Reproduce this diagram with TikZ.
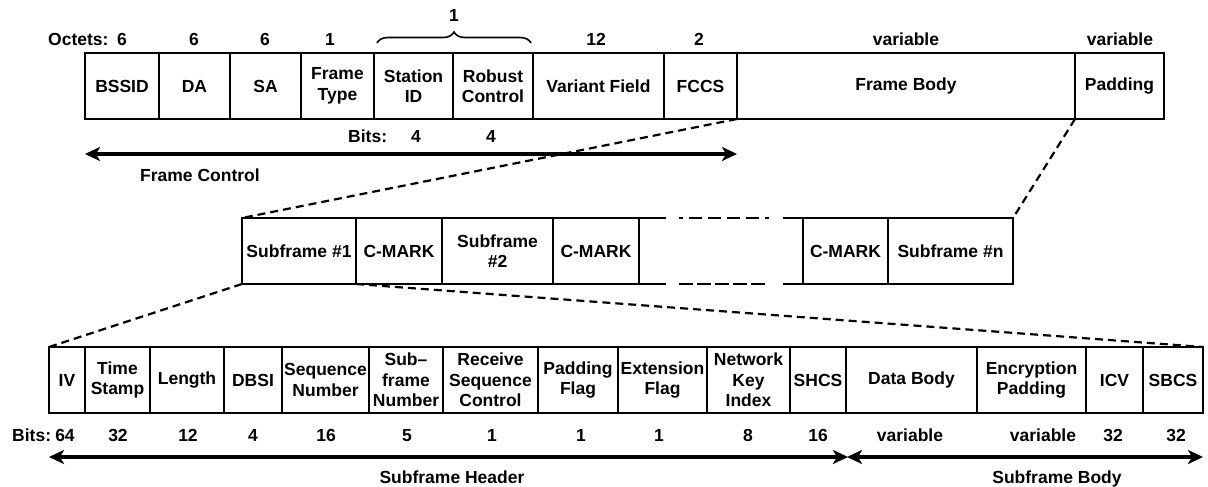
\documentclass[tikz,border=0pt]{standalone}
\usepackage{fontspec}
\setmainfont{Liberation Sans}
\usetikzlibrary{arrows.meta,decorations.pathreplacing}
\newcommand\ff{\fontsize{17.5}{20.5}\selectfont\bfseries}
\newcommand\fld[6]{\node[field,minimum width={#3-#2},minimum height={#5-#4}] (#1) at ({(#2+#3)/2},{(#4+#5)/2}) {#6};}
\tikzset{
  field/.style={draw,line width=2pt,inner sep=0pt,outer sep=0pt,align=center,font=\ff},
  lbl/.style={inner sep=0pt,anchor=base,font=\ff},
  lblw/.style={inner sep=0pt,anchor=base west,font=\ff},
  zoomline/.style={line width=2.2pt,dash pattern=on 8pt off 5pt},
  span/.style={line width=3.2pt,{Stealth[length=15pt,width=14pt,inset=4pt]}-{Stealth[length=15pt,width=14pt,inset=4pt]}}
}
\begin{document}
\begin{tikzpicture}[x=1pt,y=-1pt]
\useasboundingbox (0,0) rectangle (1208,487);
% ---- top row
\fld{bssid}{85}{159}{53}{119}{BSSID}
\fld{da}{159}{230}{53}{119}{DA}
\fld{sa}{230}{301}{53}{119}{SA}
\fld{ftype}{301}{374}{53}{119}{Frame\\Type}
\fld{stid}{374}{453}{53}{119}{Station\\ID}
\fld{robust}{453}{533}{53}{119}{Robust\\Control}
\fld{variant}{533}{664}{53}{119}{Variant Field}
\fld{fccs}{664}{737}{53}{119}{FCCS}
\fld{fbody}{737}{1075}{53}{119}{Frame Body}
\fld{padding}{1075}{1164}{53}{119}{Padding}
\node[lblw] (octets) at (48,46) {Octets:};
\node[lbl] (o1) at (122,46) {6};
\node[lbl] (o2) at (194,46) {6};
\node[lbl] (o3) at (265,46) {6};
\node[lbl] (o4) at (330,46) {1};
\node[lbl] (o5) at (596,46) {12};
\node[lbl] (o6) at (699,46) {2};
\node[lbl] (o7) at (906,46) {variable};
\node[lbl] (o8) at (1120,46) {variable};
\coordinate (brL) at (377,43);
\coordinate (brR) at (531,43);
\draw[line width=1.6pt,decorate,decoration={brace,amplitude=11pt}] (brL) -- (brR);
\node[lbl] (o9) at (454,22) {1};
\node[lblw] (bits1) at (348,142) {Bits:};
\node[lbl] (b1) at (416,142) {4};
\node[lbl] (b2) at (491,142) {4};
\coordinate (fcL) at (85,154);
\coordinate (fcR) at (737,154);
\draw[span] (fcL) -- (fcR);
\node[lbl] (fc) at (200,181) {Frame Control};
% ---- middle row
\fld{s1}{242}{356}{218}{284}{Subframe \#1}
\fld{cm1}{356}{442}{218}{284}{C-MARK}
\fld{s2}{442}{553}{218}{284}{Subframe\\\#2}
\fld{cm2}{553}{639}{218}{284}{C-MARK}
\fld{cm3}{803}{888}{218}{284}{C-MARK}
\fld{sn}{888}{1013}{218}{284}{Subframe \#n}
\coordinate (gtA) at (666,218);
\coordinate (gbA) at (666,284);
\coordinate (gtB) at (783,218);
\coordinate (gbB) at (783,284);
\coordinate (dtA) at (679,218);
\coordinate (dtB) at (770,218);
\coordinate (dbA) at (679,284);
\coordinate (dbB) at (765,284);
\draw[line width=2pt] (cm2.north east) -- (gtA) (cm2.south east) -- (gbA);
\draw[line width=2pt] (gtB) -- (cm3.north west) (gbB) -- (cm3.south west);
\draw[line width=2.6pt,dash pattern=on 4pt off 6pt on 13pt off 6pt on 13pt off 6pt on 13pt off 6pt on 13pt off 6pt on 4pt off 20pt] (dtA) -- (dtB);
\draw[line width=2.6pt,dash pattern=on 14pt off 4pt] (dbA) -- (dbB);
% ---- bottom row
\fld{iv}{49}{85}{347}{413}{IV}
\fld{ts}{85}{150}{347}{413}{Time\\Stamp}
\fld{len}{150}{224}{347}{413}{Length}
\fld{dbsi}{224}{282}{347}{413}{DBSI}
\fld{seq}{282}{369}{347}{413}{Sequence\\Number}
\fld{sfn}{369}{443}{347}{413}{Sub–\\frame\\Number}
\fld{rsc}{443}{538}{347}{413}{Receive\\Sequence\\Control}
\fld{pf}{538}{618}{347}{413}{Padding\\Flag}
\fld{ef}{618}{707}{347}{413}{Extension\\Flag}
\fld{nki}{707}{790}{347}{413}{Network\\Key\\Index}
\fld{shcs}{790}{846}{347}{413}{SHCS}
\fld{db}{846}{977}{347}{413}{Data Body}
\fld{ep}{977}{1086}{347}{413}{Encryption\\Padding}
\fld{icv}{1086}{1143}{347}{413}{ICV}
\fld{sbcs}{1143}{1203}{347}{413}{SBCS}
\node[lblw] (bits2) at (12,441) {Bits:};
\node[lbl] (c1) at (65,441) {64};
\node[lbl] (c2) at (118,441) {32};
\node[lbl] (c3) at (188,441) {12};
\node[lbl] (c4) at (253,441) {4};
\node[lbl] (c5) at (326,441) {16};
\node[lbl] (c6) at (407,441) {5};
\node[lbl] (c7) at (492,441) {1};
\node[lbl] (c8) at (581,441) {1};
\node[lbl] (c9) at (659,441) {1};
\node[lbl] (c10) at (748,441) {8};
\node[lbl] (c11) at (818,441) {16};
\node[lbl] (c12) at (910,441) {variable};
\node[lbl] (c13) at (1043,441) {variable};
\node[lbl] (c14) at (1113,441) {32};
\node[lbl] (c15) at (1176,441) {32};
\coordinate (shL) at (49,457);
\coordinate (shR) at (848,457);
\coordinate (sbL) at (847,457);
\coordinate (sbR) at (1203,457);
\draw[span] (shL) -- (shR);
\draw[span] (sbL) -- (sbR);
\node[lbl] (sh) at (452,483) {Subframe Header};
\node[lbl] (sb) at (1057,483) {Subframe Body};
% ---- zoom connectors
\draw[zoomline] (fccs.south east) -- (s1.north west);
\draw[zoomline] (padding.south west) -- (sn.north east);
\draw[zoomline] (s1.south west) -- (iv.north west);
\draw[zoomline] (s1.south east) -- (sbcs.north east);
\end{tikzpicture}
\end{document}
